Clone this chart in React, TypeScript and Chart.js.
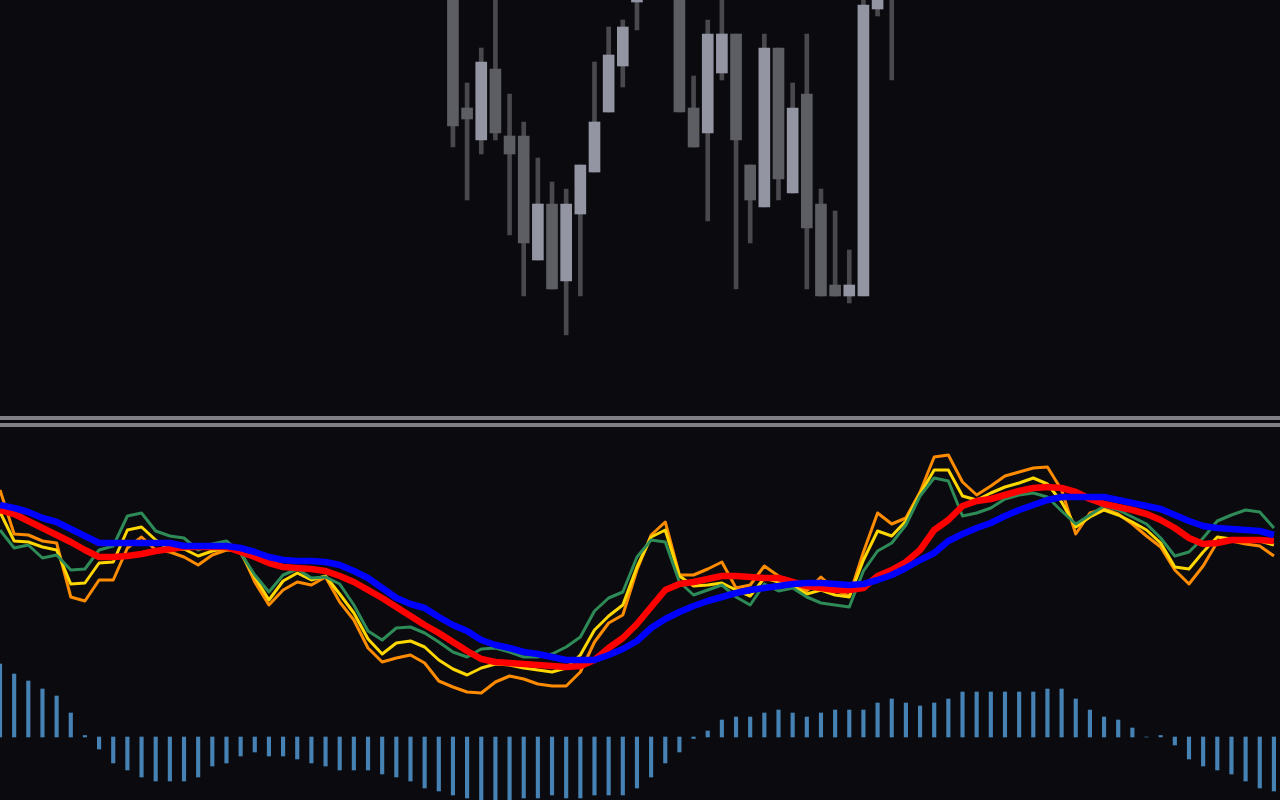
import React, { useEffect, useRef } from "react";
import { Chart, registerables } from "chart.js";

Chart.register(...registerables);

// ---------- layout constants ----------
const WIDTH = 1280;
const TOP_H = 416;
const BOTTOM_TOP = 427;
const BOTTOM_H = 800 - BOTTOM_TOP;
const BAR_COUNT = 91;
const X_MAX = 90.43; // visible bar-index span across the window

// ---------- price panel (candles), bars 32..63 ----------
const candleFirstIndex = 32;
const candleOpen = [446, 308, 276, 347, 280, 280, 156, 212, 135, 202, 244, 304, 350, 414, 436, 476, 446, 308, 283, 343, 382, 251, 209, 368, 223, 322, 212, 131, 120, 120, 407, 461];
const candleHigh = [466, 333, 368, 436, 322, 294, 258, 234, 227, 251, 354, 389, 396, 441, 476, 486, 451, 340, 396, 426, 382, 251, 382, 368, 333, 382, 227, 205, 166, 421, 441, 471];
const candleLow = [269, 216, 262, 276, 181, 120, 156, 127, 81, 120, 244, 304, 329, 386, 426, 431, 304, 269, 195, 336, 127, 173, 209, 216, 223, 127, 120, 120, 113, 120, 400, 336];
const candleClose = [290, 297, 354, 283, 262, 173, 212, 127, 212, 251, 294, 361, 389, 436, 466, 446, 304, 269, 382, 382, 276, 216, 368, 237, 308, 188, 120, 120, 131, 411, 431, 426];

// ---------- indicator panel, bars 0..90 ----------
const blueLine = [232, 229, 225, 219, 215, 208, 201, 194, 194, 194, 194, 194, 194, 191, 191, 191, 191, 189, 185, 180, 177, 176, 176, 175, 172, 166, 159, 149, 139, 133, 129, 120, 112, 106, 97, 92, 89, 85, 83, 80, 77, 77, 77, 82, 88, 96, 109, 118, 125, 131, 136, 140, 144, 147, 149, 151, 153, 154, 154, 153, 152, 153, 157, 162, 169, 177, 184, 196, 203, 209, 214, 221, 227, 232, 237, 240, 240, 240, 240, 237, 234, 231, 228, 222, 216, 211, 209, 208, 207, 206, 202];
const redLine = [227, 223, 216, 209, 202, 195, 187, 180, 180, 181, 183, 186, 188, 190, 190, 190, 190, 185, 180, 174, 170, 169, 168, 166, 161, 155, 147, 139, 130, 121, 112, 104, 95, 86, 78, 75, 74, 73, 72, 71, 70, 71, 77, 89, 99, 113, 130, 147, 153, 155, 158, 161, 161, 160, 159, 159, 155, 151, 149, 147, 147, 149, 161, 167, 175, 187, 207, 217, 231, 236, 238, 242, 246, 249, 250, 249, 245, 238, 233, 230, 227, 223, 217, 209, 199, 193, 194, 197, 197, 197, 196];
const goldLine = [225, 196, 195, 190, 187, 153, 154, 174, 175, 207, 210, 197, 187, 188, 181, 186, 189, 184, 160, 137, 156, 164, 157, 161, 143, 124, 98, 83, 94, 96, 90, 77, 68, 62, 69, 73, 72, 69, 67, 65, 69, 82, 107, 121, 132, 170, 200, 207, 161, 151, 152, 154, 147, 141, 159, 155, 151, 143, 147, 142, 140, 177, 206, 201, 216, 243, 267, 267, 241, 237, 244, 250, 254, 259, 253, 235, 210, 220, 227, 222, 215, 207, 194, 170, 168, 185, 200, 198, 197, 196, 192];
const orangeLine = [247, 203, 202, 196, 194, 140, 136, 157, 157, 189, 200, 187, 185, 180, 172, 182, 187, 186, 155, 132, 147, 155, 152, 160, 135, 117, 89, 75, 79, 82, 74, 56, 50, 45, 44, 55, 61, 58, 53, 51, 51, 65, 95, 114, 122, 167, 202, 215, 162, 162, 168, 175, 149, 152, 171, 161, 154, 146, 160, 147, 141, 185, 224, 213, 219, 245, 280, 282, 255, 242, 251, 261, 265, 269, 270, 247, 203, 224, 228, 223, 213, 201, 190, 167, 153, 171, 195, 196, 193, 191, 181];
const greenLine = [207, 189, 192, 179, 182, 167, 168, 187, 191, 221, 224, 206, 201, 199, 187, 193, 196, 184, 162, 145, 162, 168, 159, 160, 153, 132, 106, 97, 109, 110, 104, 95, 85, 80, 88, 89, 85, 80, 80, 83, 90, 100, 126, 139, 145, 180, 197, 195, 155, 142, 147, 152, 140, 132, 153, 146, 149, 140, 134, 132, 130, 166, 186, 194, 212, 241, 259, 256, 221, 224, 229, 238, 242, 244, 240, 226, 213, 222, 231, 227, 220, 213, 199, 181, 185, 199, 216, 222, 227, 225, 209];
const histogram = [73, 63, 56, 48, 41, 24, 1.5, -12, -26, -33, -40, -44, -44, -44, -40, -29, -26, -19, -15, -19, -19, -22, -26, -29, -33, -33, -33, -37, -40, -44, -51, -54, -58, -61, -66, -66, -66, -61, -61, -58, -61, -61, -58, -58, -58, -51, -40, -26, -15, -1.5, 6, 17, 20, 20, 24, 27, 24, 20, 24, 27, 27, 27, 34, 38, 34, 31, 34, 38, 45, 45, 45, 45, 45, 45, 48, 48, 38, 27, 20, 17, 9, 0, 1.5, -8, -22, -29, -33, -37, -44, -51, -54];

// ---------- colours ----------
const BG = "#0a0a0f";
const UP_BODY = "#9395a3";
const DOWN_BODY = "#5d5e63";
const WICK = "#48484d";
const SEPARATOR = "#7f7f85";

const baseOptions = (yMin: number, yMax: number) => ({
  animation: false as const,
  responsive: false,
  maintainAspectRatio: false,
  layout: { padding: 0 },
  events: [],
  plugins: { legend: { display: false }, tooltip: { enabled: false }, title: { display: false } },
  scales: {
    x: { type: "linear" as const, min: 0, max: X_MAX, offset: false, display: false },
    y: { type: "linear" as const, min: yMin, max: yMax, display: false },
  },
});

export default function App() {
  const topRef = useRef<HTMLCanvasElement | null>(null);
  const bottomRef = useRef<HTMLCanvasElement | null>(null);

  useEffect(() => {
    if (!topRef.current || !bottomRef.current) return;

    const bodyData = candleOpen.map((o, k) => ({ x: candleFirstIndex + k, y: [o, candleClose[k]] }));
    const bodyColors = candleOpen.map((o, k) => (candleClose[k] >= o ? UP_BODY : DOWN_BODY));
    const wickData = candleLow.map((l, k) => ({ x: candleFirstIndex + k, y: [l, candleHigh[k]] }));

    const top = new Chart(topRef.current, {
      type: "bar",
      data: {
        datasets: [
          { label: "Body", data: bodyData as any, backgroundColor: bodyColors, borderWidth: 0, barThickness: 11, grouped: false, order: 0 },
          { label: "Wick", data: wickData as any, backgroundColor: WICK, borderWidth: 0, barThickness: 4, grouped: false, order: 1 },
        ],
      },
      options: baseOptions(0, TOP_H) as any,
    });

    const pts = (arr: number[]) => arr.map((v, i) => ({ x: i, y: v }));
    const line = (label: string, arr: number[], color: string, width: number, order: number) => ({
      type: "line" as const,
      label,
      data: pts(arr),
      borderColor: color,
      borderWidth: width,
      pointRadius: 0,
      fill: false,
      tension: 0,
      borderJoinStyle: "round" as const,
      order,
    });

    const bottom = new Chart(bottomRef.current, {
      type: "bar",
      data: {
        datasets: [
          line("Slow", blueLine, "#0000ff", 6.5, 0),
          line("Signal", redLine, "#ff0000", 6.5, 1),
          line("Fast", greenLine, "#2e8b57", 3, 2),
          line("Medium", goldLine, "#ffd700", 3, 3),
          line("Wide", orangeLine, "#ff8c00", 3, 4),
          {
            type: "bar" as const,
            label: "Histogram",
            data: pts(histogram),
            backgroundColor: "#4682b4",
            borderWidth: 0,
            barThickness: 3.5,
            grouped: false,
            order: 5,
          },
        ] as any,
      },
      options: baseOptions(737 - 800, 737 - BOTTOM_TOP) as any,
    });

    return () => {
      top.destroy();
      bottom.destroy();
    };
  }, []);

  return (
    <div style={{ position: "fixed", left: 0, top: 0, width: WIDTH, height: 800, background: BG, overflow: "hidden" }}>
      <canvas ref={topRef} width={WIDTH} height={TOP_H} style={{ position: "absolute", left: 0, top: 0, display: "block" }} />
      <div style={{ position: "absolute", left: 0, top: 416, width: WIDTH, height: 4, background: SEPARATOR }} />
      <div style={{ position: "absolute", left: 0, top: 423, width: WIDTH, height: 4, background: SEPARATOR }} />
      <canvas ref={bottomRef} width={WIDTH} height={BOTTOM_H} style={{ position: "absolute", left: 0, top: BOTTOM_TOP, display: "block" }} />
    </div>
  );
}
